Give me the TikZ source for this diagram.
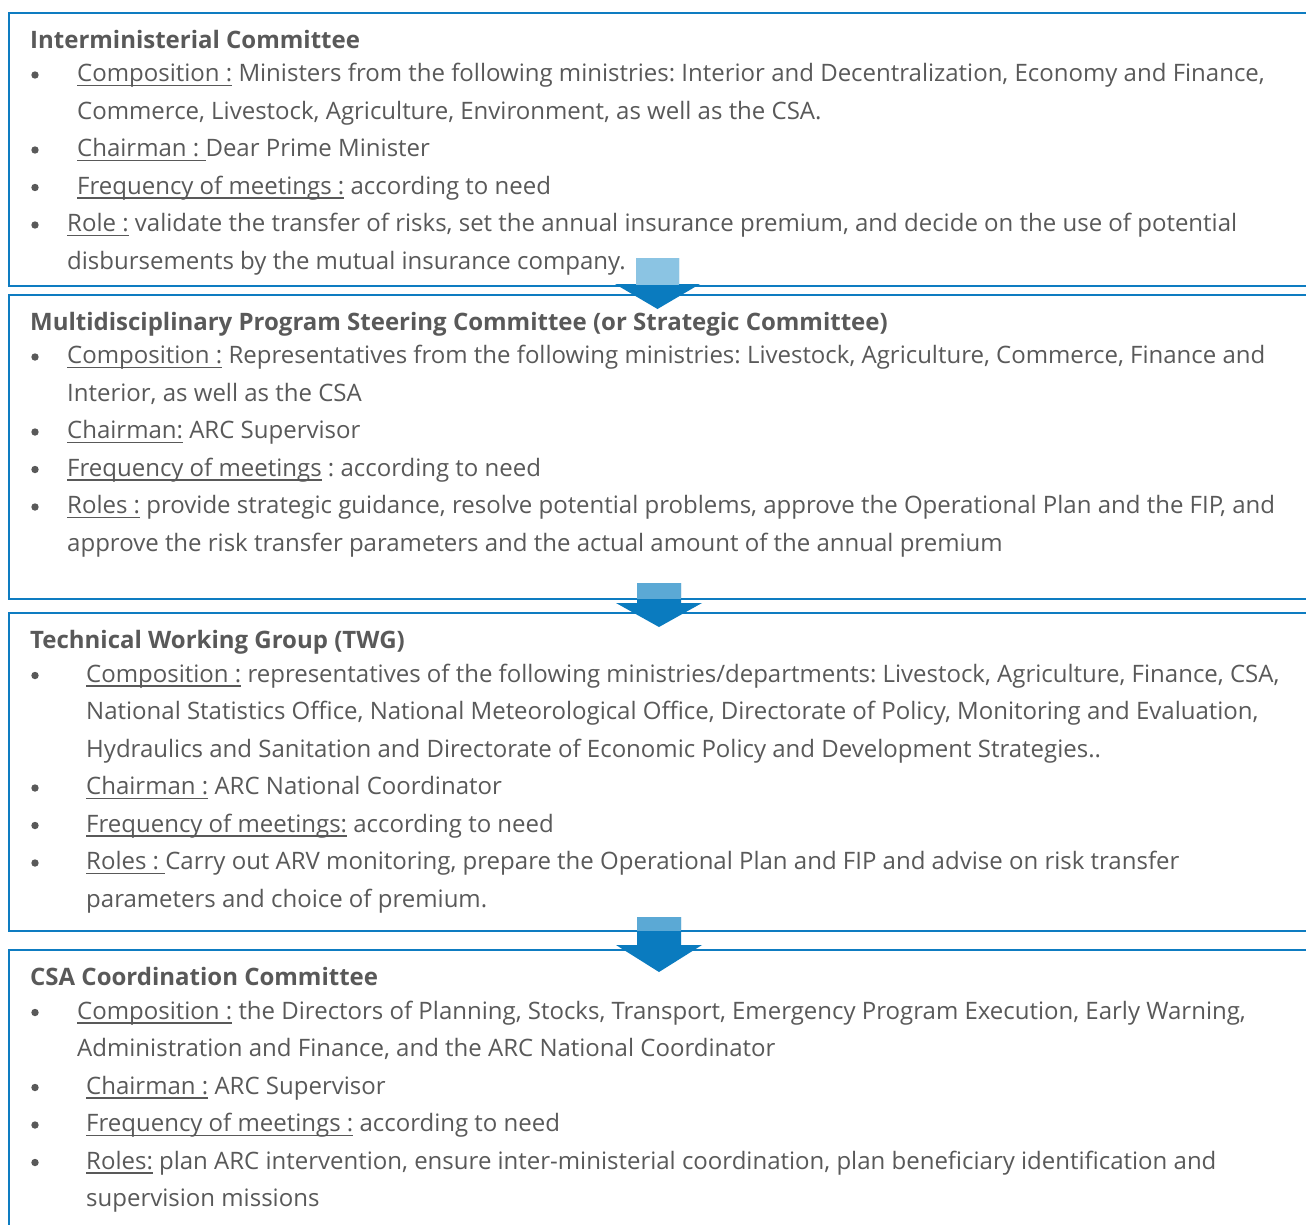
\documentclass[tikz,border=0pt]{standalone}
\usepackage{fontspec}
\setmainfont{Open Sans}
\frenchspacing
\definecolor{frame}{HTML}{0E7CC1}
\definecolor{ink}{HTML}{595959}
\definecolor{arrowdark}{HTML}{0A7BBF}
\definecolor{arrowpale}{HTML}{8BC4E3}
\definecolor{arrowmid}{HTML}{5BA9D5}
% underline at a fixed depth, independent of descenders
\newcommand\ulx[1]{{\setbox0\hbox{#1}\rlap{\color{ink}\rule[-0.19em]{\wd0}{0.06em}}\box0}}
\tikzset{
  txt/.style={anchor=base west, inner sep=0pt, text=ink, font=\fontsize{24}{28}\selectfont},
  head/.style={txt, font=\fontsize{24}{28}\selectfont\bfseries},
  panel/.style={draw=frame, line width=2pt},
  dot/.style={circle, fill=ink, inner sep=0pt, minimum size=7.4pt},
}
\begin{document}
\begin{tikzpicture}[x=1pt,y=-1pt]
\useasboundingbox (0,0) rectangle (1306,1224);
\clip (0,0) rectangle (1306,1224);
\fill[white] (0,0) rectangle (1306,1224);

% panels
\draw[panel] (9,12.5) rectangle (1330,285.5);
\draw[panel] (9,294.5) rectangle (1330,599);
\draw[panel] (9,612.5) rectangle (1330,931);
\draw[panel] (9,949.5) rectangle (1330,1250);

% ---------- Interministerial Committee ----------
\node[head] (h1) at (30,48.5) {Interministerial Committee};
\node[dot] (d11) at (35,75) {};
\node[txt] (a11) at (77,81.5) {\ulx{Composition :} Ministers from the following ministries: Interior and Decentralization, Economy and Finance,};
\node[txt] (a12) at (77,119) {Commerce, Livestock, Agriculture, Environment, as well as the CSA.};
\node[dot] (d12) at (35,150) {};
\node[txt] (a13) at (77,156.5) {\ulx{Chairman : }Dear Prime Minister};
\node[dot] (d13) at (35,187.5) {};
\node[txt] (a14) at (77,194) {\ulx{Frequency of meetings :} according to need};
\node[dot] (d14) at (35,225) {};
\node[txt] (a15) at (67,231.5) {\ulx{Role :} validate the transfer of risks, set the annual insurance premium, and decide on the use of potential};
\node[txt] (a16) at (67,269) {disbursements by the mutual insurance company.};

% ---------- Steering Committee ----------
\node[head] (h2) at (30,330) {Multidisciplinary Program Steering Committee (or Strategic Committee)};
\node[dot] (d21) at (35,357) {};
\node[txt] (a21) at (67,363.5) {\ulx{Composition :} Representatives from the following ministries: Livestock, Agriculture, Commerce, Finance and};
\node[txt] (a22) at (67,401) {Interior, as well as the CSA};
\node[dot] (d22) at (35,432) {};
\node[txt] (a23) at (67,438.5) {\ulx{Chairman:} ARC Supervisor};
\node[dot] (d23) at (35,469.5) {};
\node[txt] (a24) at (67,476) {\ulx{Frequency of meetings} : according to need};
\node[dot] (d24) at (35,507) {};
\node[txt] (a25) at (67,513.5) {\ulx{Roles :} provide strategic guidance, resolve potential problems, approve the Operational Plan and the FIP, and};
\node[txt] (a26) at (67,551) {approve the risk transfer parameters and the actual amount of the annual premium};

% ---------- Technical Working Group ----------
\node[head] (h3) at (30,648.5) {Technical Working Group (TWG)};
\node[dot] (d31) at (35,675.5) {};
\node[txt] (a31) at (86,682) {\ulx{Composition :} representatives of the following ministries/departments: Livestock, Agriculture, Finance, CSA,};
\node[txt] (a32) at (86,719.5) {National Statistics Office, National Meteorological Office, Directorate of Policy, Monitoring and Evaluation,};
\node[txt] (a33) at (86,757) {Hydraulics and Sanitation and Directorate of Economic Policy and Development Strategies..};
\node[dot] (d34) at (35,788) {};
\node[txt] (a34) at (86,794.5) {\ulx{Chairman :} ARC National Coordinator};
\node[dot] (d35) at (35,825.5) {};
\node[txt] (a35) at (86,832) {\ulx{Frequency of meetings:} according to need};
\node[dot] (d36) at (35,863) {};
\node[txt] (a36) at (86,869.5) {\ulx{Roles : }Carry out ARV monitoring, prepare the Operational Plan and FIP and advise on risk transfer};
\node[txt] (a37) at (86,907) {parameters and choice of premium.};

% ---------- CSA Coordination Committee ----------
\node[head] (h4) at (30,985.5) {CSA Coordination Committee};
\node[dot] (d41) at (35,1012.5) {};
\node[txt] (a41) at (77,1019) {\ulx{Composition :} the Directors of Planning, Stocks, Transport, Emergency Program Execution, Early Warning,};
\node[txt] (a42) at (77,1056.5) {Administration and Finance, and the ARC National Coordinator};
\node[dot] (d43) at (35,1087.5) {};
\node[txt] (a43) at (86,1094) {\ulx{Chairman :} ARC Supervisor};
\node[dot] (d44) at (35,1125) {};
\node[txt] (a44) at (86,1131.5) {\ulx{Frequency of meetings :} according to need};
\node[dot] (d45) at (35,1162.5) {};
\node[txt] (a45) at (86,1169) {\ulx{Roles:} plan ARC intervention, ensure inter-ministerial coordination, plan beneficiary identification and};
\node[txt] (a46) at (86,1206.5) {supervision missions};

% ---------- block arrows between panels ----------
\fill[arrowdark] (636,258) -- (679,258) -- (679,284) -- (700,284) -- (657.5,309)
  -- (615,284) -- (636,284) -- cycle;
\fill[arrowpale] (636,258) rectangle (679,285);

\fill[arrowdark] (637,583) -- (681,583) -- (681,603) -- (702,603) -- (659,627)
  -- (616,603) -- (637,603) -- cycle;
\fill[arrowmid] (637,583) rectangle (681,599);

\fill[arrowdark] (637,917) -- (681,917) -- (681,945) -- (702,945) -- (659,972)
  -- (616,945) -- (637,945) -- cycle;
\fill[arrowmid] (637,917) rectangle (681,931);
\end{tikzpicture}
\end{document}
